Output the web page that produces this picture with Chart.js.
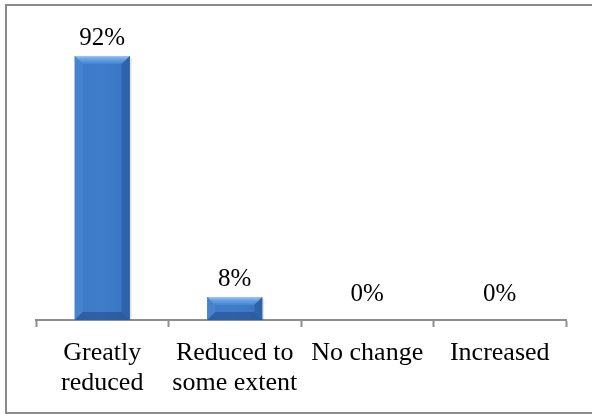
<!DOCTYPE html>
<html>
<head>
<meta charset="utf-8">
<script src="https://cdn.jsdelivr.net/npm/chart.js@4/dist/chart.umd.min.js"></script>
<style>
  html, body { margin: 0; padding: 0; background: #ffffff; }
  #wrap { position: relative; width: 592px; height: 414px; }
  canvas { display: block; }
</style>
</head>
<body>
<div id="wrap"><canvas id="chart" width="592" height="414"></canvas></div>
<script>
// Survey responses (percent of respondents)
const categories = [
  ['Greatly', 'reduced'],
  ['Reduced to', 'some extent'],
  ['No change'],
  ['Increased']
];
const percentValues = [92, 8, 0, 0];
const valueLabels = ['92%', '8%', '0%', '0%'];

const SERIF = '"Liberation Serif", "Times New Roman", serif';

// Outer frame of the chart
const framePlugin = {
  id: 'frame',
  afterDraw(chart) {
    const ctx = chart.ctx;
    ctx.save();
    ctx.strokeStyle = '#8a8a8a';
    ctx.lineWidth = 2;
    ctx.beginPath();
    ctx.moveTo(592, 5);
    ctx.lineTo(6, 5);
    ctx.lineTo(6, 413);
    ctx.lineTo(592, 413);
    ctx.stroke();
    ctx.restore();
  }
};

// Soft bevelled look for the bars, drawn over each bar element
const bevelPlugin = {
  id: 'bevel',
  afterDatasetsDraw(chart) {
    const ctx = chart.ctx;
    const meta = chart.getDatasetMeta(0);
    meta.data.forEach((bar) => {
      const p = bar.getProps(['x', 'y', 'base', 'width'], true);
      const x0 = p.x - p.width / 2, x1 = p.x + p.width / 2;
      const y0 = Math.min(p.y, p.base), y1 = Math.max(p.y, p.base);
      const h = y1 - y0;
      if (h < 0.5) return;
      const b = Math.min(8, h / 2, p.width / 2);
      ctx.save();
      // soft drop shadow
      ctx.fillStyle = 'rgba(0,0,0,0.10)';
      ctx.fillRect(x0 + 1, y0 + 2, p.width + 1, h - 2);
      // face
      const face = ctx.createLinearGradient(x0, 0, x1, 0);
      face.addColorStop(0, '#3d79c6');
      face.addColorStop(0.5, '#3f7dcb');
      face.addColorStop(1, '#3873c0');
      ctx.fillStyle = face;
      ctx.fillRect(x0, y0, p.width, h);
      // top bevel
      const top = ctx.createLinearGradient(0, y0, 0, y0 + b);
      top.addColorStop(0, '#9ec8f3');
      top.addColorStop(0.35, '#6ea6e6');
      top.addColorStop(1, '#4684d0');
      ctx.fillStyle = top;
      ctx.beginPath();
      ctx.moveTo(x0, y0); ctx.lineTo(x1, y0);
      ctx.lineTo(x1 - b, y0 + b); ctx.lineTo(x0 + b, y0 + b);
      ctx.closePath(); ctx.fill();
      // left bevel
      ctx.fillStyle = 'rgba(110,165,230,0.22)';
      ctx.beginPath();
      ctx.moveTo(x0, y0); ctx.lineTo(x0 + b, y0 + b);
      ctx.lineTo(x0 + b, y1 - b); ctx.lineTo(x0, y1);
      ctx.closePath(); ctx.fill();
      // right bevel
      ctx.fillStyle = 'rgba(25,60,115,0.30)';
      ctx.beginPath();
      ctx.moveTo(x1, y0); ctx.lineTo(x1 - b, y0 + b);
      ctx.lineTo(x1 - b, y1 - b); ctx.lineTo(x1, y1);
      ctx.closePath(); ctx.fill();
      // bottom bevel
      ctx.fillStyle = 'rgba(25,55,110,0.40)';
      ctx.beginPath();
      ctx.moveTo(x0, y1); ctx.lineTo(x1, y1);
      ctx.lineTo(x1 - b, y1 - b); ctx.lineTo(x0 + b, y1 - b);
      ctx.closePath(); ctx.fill();
      ctx.restore();
    });
  }
};

// Value labels above each bar
const valueLabelPlugin = {
  id: 'valueLabels',
  afterDatasetsDraw(chart) {
    const ctx = chart.ctx;
    const meta = chart.getDatasetMeta(0);
    ctx.save();
    ctx.font = '25px ' + SERIF;
    ctx.fillStyle = '#000000';
    ctx.textAlign = 'center';
    ctx.textBaseline = 'middle';
    meta.data.forEach((bar, i) => {
      const p = bar.getProps(['x', 'y', 'base'], true);
      const yTop = Math.min(p.y, p.base - 8);
      ctx.fillText(valueLabels[i], p.x, yTop - 18);
    });
    ctx.restore();
  }
};

new Chart(document.getElementById('chart'), {
  type: 'bar',
  data: {
    labels: categories,
    datasets: [{
      data: percentValues,
      backgroundColor: '#3c78c4',
      borderWidth: 0,
      categoryPercentage: 1,
      barPercentage: 0.415
    }]
  },
  options: {
    responsive: false,
    devicePixelRatio: 1,
    animation: false,
    layout: { padding: { left: 36, right: 26, top: 33, bottom: 0 } },
    plugins: {
      legend: { display: false },
      tooltip: { enabled: false }
    },
    scales: {
      x: {
        offset: true,
        afterFit(scale) { scale.height = 94; },
        border: { display: true, color: '#8e8e8e', width: 2 },
        grid: {
          offset: true,
          drawOnChartArea: false,
          drawTicks: true,
          tickLength: 7,
          tickWidth: 2,
          tickColor: '#8e8e8e'
        },
        ticks: {
          color: '#000000',
          padding: 11,
          maxRotation: 0,
          autoSkip: false,
          font: { family: SERIF, size: 26, lineHeight: 30 / 26 }
        }
      },
      y: {
        display: false,
        min: 0,
        max: 100
      }
    }
  },
  plugins: [bevelPlugin, valueLabelPlugin, framePlugin]
});
</script>
</body>
</html>
